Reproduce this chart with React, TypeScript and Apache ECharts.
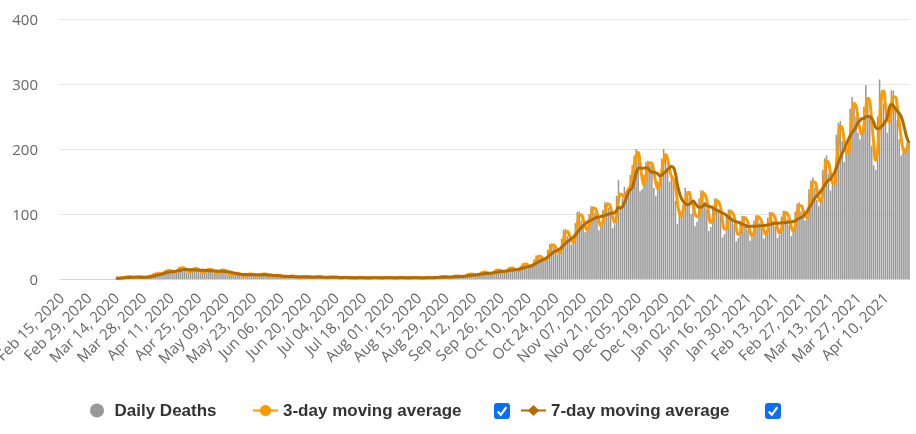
import React, { useEffect, useRef } from "react";
import * as echarts from "echarts";

// ---- data ----
const START_DATE = "2020-02-15"; // first category; one category per day
const seriesNames = ["Daily Deaths", "3-day moving average", "7-day moving average"];
const yTicks = [0, 100, 200, 300, 400];
const labelEveryDays = 14;

// daily reported deaths, Feb 15 2020 .. Apr 22 2021 (null = not yet reported)
const dailyDeaths: (number | null)[] = [
  null, null, null, null, null, null, null, null, null, null, null, null, null, null,
  null, null, null, null, null, null, null, null, null, null, null, null, null, null,
  1,
  1, 2, 2, 3, 3, 4, 3,
  2, 2, 3, 3, 3, 3, 2,
  3, 3, 5, 6, 8, 8, 9,
  7, 8, 11, 13, 14, 12, 12,
  10, 10, 15, 18, 18, 16, 15,
  10, 9, 14, 17, 17, 15, 13,
  9, 9, 13, 15, 16, 14, 12,
  8, 8, 12, 14, 15, 12, 11,
  6, 5, 8, 9, 9, 8, 7,
  4, 4, 7, 8, 8, 7, 7,
  5, 4, 7, 8, 8, 7, 6,
  3, 3, 5, 6, 6, 5, 4,
  2, 2, 4, 5, 5, 4, 3,
  2, 2, 3, 4, 4, 4, 3,
  2, 2, 3, 4, 3, 3, 3,
  1, 2, 3, 3, 3, 3, 3,
  1, 1, 3, 3, 2, 2, 3,
  1, 1, 2, 3, 3, 2, 2,
  1, 1, 2, 3, 2, 3, 2,
  1, 1, 3, 2, 3, 2, 2,
  1, 1, 2, 3, 3, 2, 2,
  1, 2, 2, 3, 2, 2, 2,
  1, 1, 2, 3, 3, 2, 2,
  2, 2, 3, 4, 4, 3, 3,
  2, 2, 4, 5, 5, 4, 4,
  3, 4, 6, 8, 8, 7, 6,
  5, 6, 9, 11, 11, 10, 8,
  7, 7, 12, 14, 15, 13, 12,
  9, 10, 14, 18, 18, 15, 14,
  12, 13, 20, 24, 24, 21, 19,
  18, 20, 30, 36, 37, 32, 30,
  28, 30, 45, 54, 55, 48, 41,
  38, 42, 62, 76, 77, 66, 59,
  53, 57, 86, 103, 104, 90, 81,
  72, 75, 100, 112, 112, 102, 92,
  75, 80, 106, 118, 118, 110, 100,
  78, 84, 128, 152, 112, 124, 142,
  130, 140, 160, 175, 190, 200, 195,
  135, 138, 160, 180, 182, 175, 178,
  140, 128, 150, 160, 185, 200, 190,
  165, 150, 160, 150, 120, 85, 100,
  105, 115, 140, 135, 125, 100, 120,
  81, 88, 124, 136, 136, 119, 107,
  74, 80, 113, 124, 124, 108, 98,
  64, 69, 98, 107, 107, 93, 85,
  58, 63, 89, 97, 97, 85, 76,
  59, 64, 90, 98, 98, 86, 78,
  62, 67, 94, 103, 103, 90, 81,
  63, 68, 96, 105, 105, 92, 83,
  66, 72, 104, 116, 118, 104, 96,
  90, 98, 138, 152, 156, 140, 122,
  112, 124, 168, 186, 190, 162, 136,
  145, 158, 222, 240, 243, 212, 180,
  195, 205, 262, 280, 268, 250, 225,
  215, 226, 265, 298, 271, 250, 205,
  175, 168, 250, 307, 290, 270, 240,
  225, 260, 290, 290, 260, 245, 215,
  190, 195, 200, 210, 211,
];

const MONTHS = ["Jan", "Feb", "Mar", "Apr", "May", "Jun", "Jul", "Aug", "Sep", "Oct", "Nov", "Dec"];

function buildCategories(): string[] {
  const out: string[] = [];
  const start = new Date(START_DATE + "T00:00:00Z").getTime();
  for (let i = 0; i < dailyDeaths.length; i++) {
    const d = new Date(start + i * 86400000);
    out.push(`${MONTHS[d.getUTCMonth()]} ${String(d.getUTCDate()).padStart(2, "0")}, ${d.getUTCFullYear()}`);
  }
  return out;
}

// trailing moving average of the daily values
function movingAverage(values: (number | null)[], n: number): (number | null)[] {
  return values.map((v, i) => {
    if (v == null) return null;
    let s = 0;
    let c = 0;
    for (let j = Math.max(0, i - n + 1); j <= i; j++) {
      const x = values[j];
      if (x != null) {
        s += x;
        c++;
      }
    }
    return Math.round((s / c) * 10) / 10;
  });
}

const categories = buildCategories();
const ma3 = movingAverage(dailyDeaths, 3);
const ma7 = movingAverage(dailyDeaths, 7);

const LEGEND_FONT = "'Liberation Sans', Arial, sans-serif";
const AXIS_FONT = "'Open Sans', sans-serif";

function checkbox(left: number, top: number) {
  return {
    type: "group",
    left,
    top,
    children: [
      { type: "rect", shape: { x: 0, y: 0, width: 16, height: 16, r: 3 }, style: { fill: "#0b6ef6" } },
      {
        type: "polyline",
        shape: { points: [[3.8, 8.4], [6.8, 11.8], [12.4, 4.2]] },
        style: { stroke: "#ffffff", lineWidth: 2.2, fill: null },
      },
    ],
  };
}

function legendAt(left: number, name: string, icon?: string) {
  return {
    left,
    top: 402,
    padding: 0,
    itemWidth: 25,
    itemHeight: 14,
    data: [icon ? { name, icon } : { name }],
    selectedMode: false,
    textStyle: { color: "#333", fontSize: 17, fontWeight: "bold", fontFamily: LEGEND_FONT },
  };
}

export default function App() {
  const ref = useRef<HTMLDivElement>(null);
  useEffect(() => {
    if (!ref.current) return;
    const chart = echarts.init(ref.current, null, { renderer: "svg" });
    chart.setOption({
      animation: false,
      grid: { left: 60, right: 6, top: 19, bottom: 155, containLabel: false, outerBoundsMode: "none" },
      xAxis: {
        type: "category",
        data: categories,
        boundaryGap: true,
        axisLine: { lineStyle: { color: "#ccd6eb", width: 1 } },
        axisTick: { show: false },
        axisLabel: {
          interval: labelEveryDays - 1,
          rotate: 45,
          margin: 16,
          color: "#666",
          fontSize: 15,
          fontFamily: AXIS_FONT,
        },
        splitLine: { show: false },
      },
      yAxis: {
        type: "value",
        min: yTicks[0],
        max: yTicks[yTicks.length - 1],
        interval: yTicks[1] - yTicks[0],
        axisLine: { show: false },
        axisTick: { show: false },
        axisLabel: { margin: 22, color: "#666", fontSize: 15, fontFamily: AXIS_FONT },
        splitLine: { lineStyle: { color: "#e6e6e6", width: 1 } },
      },
      legend: [
        legendAt(90, seriesNames[0], "circle"),
        legendAt(252, seriesNames[1]),
        legendAt(520, seriesNames[2]),
      ],
      graphic: [checkbox(494, 403), checkbox(765, 403)],
      series: [
        {
          name: seriesNames[0],
          type: "bar",
          data: dailyDeaths,
          barWidth: "78%",
          itemStyle: { color: "#999999" },
        },
        {
          name: seriesNames[1],
          type: "line",
          data: ma3,
          smooth: true,
          symbol: "circle",
          showSymbol: false,
          lineStyle: { width: 3, color: "#ff9900" },
          itemStyle: { color: "#ff9900" },
        },
        {
          name: seriesNames[2],
          type: "line",
          data: ma7,
          smooth: true,
          symbol: "diamond",
          showSymbol: false,
          lineStyle: { width: 3, color: "#b36b00" },
          itemStyle: { color: "#b36b00" },
        },
      ],
    });
    return () => chart.dispose();
  }, []);
  return (
    <div
      ref={ref}
      style={{ position: "fixed", left: 0, top: 0, width: 916, height: 434 }}
    />
  );
}
